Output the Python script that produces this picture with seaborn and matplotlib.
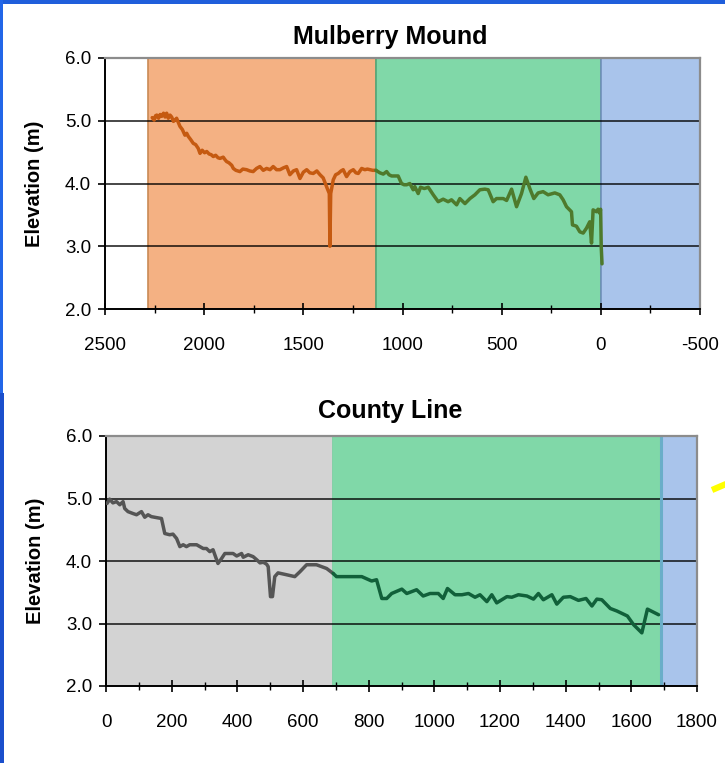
import numpy as np
import pandas as pd
import matplotlib
matplotlib.use("Agg")
import matplotlib.pyplot as plt
from matplotlib.ticker import MultipleLocator, FormatStrFormatter
from matplotlib.patches import Rectangle
from matplotlib.lines import Line2D
import seaborn as sns

# ---- Mulberry Mound profile (distance in m, elevation in m) ----
mm_dune_x = [2262, 2252, 2245, 2239, 2230, 2222, 2214, 2205, 2197, 2189, 2181, 2172, 2164,
             2155, 2147, 2139, 2130, 2122, 2110, 2097, 2088, 2080, 2068, 2055, 2043, 2030,
             2021, 2010, 1998, 1987, 1975, 1965, 1954, 1942, 1930, 1920, 1904, 1895, 1887,
             1875, 1861, 1853, 1840, 1820, 1805, 1786, 1770, 1753, 1736, 1719, 1702, 1685,
             1668, 1652, 1635, 1618, 1600, 1584, 1568, 1550, 1534, 1517, 1500, 1483, 1467,
             1450, 1432, 1416, 1400, 1383, 1369, 1366, 1362, 1349, 1337, 1324, 1310, 1299,
             1282, 1265, 1248, 1235, 1223, 1206, 1190, 1177, 1164, 1150, 1134]
mm_dune_z = [5.05, 5.01, 5.08, 5.09, 5.04, 5.10, 5.07, 5.12, 5.06, 5.12, 5.04, 5.09, 5.06,
             4.99, 5.01, 5.04, 4.97, 4.91, 4.86, 4.77, 4.80, 4.75, 4.70, 4.64, 4.62, 4.56,
             4.48, 4.53, 4.49, 4.51, 4.47, 4.46, 4.43, 4.45, 4.41, 4.40, 4.42, 4.38, 4.35,
             4.33, 4.29, 4.24, 4.21, 4.19, 4.23, 4.22, 4.20, 4.19, 4.24, 4.27, 4.21, 4.24,
             4.22, 4.27, 4.22, 4.22, 4.25, 4.27, 4.14, 4.20, 4.22, 4.08, 4.18, 4.22, 4.17,
             4.16, 4.20, 4.14, 4.09, 3.95, 3.84, 3.00, 3.84, 4.06, 4.14, 4.16, 4.20, 4.22,
             4.11, 4.19, 4.22, 4.17, 4.16, 4.24, 4.22, 4.23, 4.22, 4.21, 4.21]

mm_marsh_x = [1134, 1114, 1097, 1080, 1068, 1055, 1040, 1022, 1005, 992, 979, 963, 946, 938,
              921, 909, 890, 870, 845, 820, 795, 770, 753, 727, 711, 685, 660, 635, 610, 585,
              568, 543, 526, 492, 475, 450, 425, 400, 378, 358, 338, 316, 291, 266, 232, 207,
              190, 173, 148, 143, 123, 106, 89, 72, 56, 47, 39, 22, 14, 7, 1, -2, -6]
mm_marsh_z = [4.21, 4.17, 4.15, 4.19, 4.14, 4.12, 4.12, 4.12, 4.00, 3.98, 3.98, 4.00, 3.90,
              3.95, 3.84, 3.94, 3.92, 3.94, 3.82, 3.71, 3.75, 3.71, 3.74, 3.66, 3.76, 3.68,
              3.76, 3.82, 3.90, 3.91, 3.90, 3.71, 3.76, 3.76, 3.73, 3.91, 3.63, 3.84, 4.10,
              3.92, 3.76, 3.85, 3.87, 3.82, 3.85, 3.82, 3.74, 3.63, 3.55, 3.34, 3.32, 3.23,
              3.21, 3.29, 3.39, 3.05, 3.58, 3.55, 3.59, 3.53, 3.59, 2.99, 2.72]

# ---- County Line profile ----
cl_upland_x = [3, 8, 11, 21, 32, 42, 52, 57, 67, 82, 93, 108, 118, 128, 138, 148, 169, 179,
               194, 204, 215, 225, 235, 245, 255, 276, 286, 296, 306, 316, 326, 341, 352, 362,
               387, 398, 413, 418, 433, 448, 459, 469, 479, 489, 494, 501, 507, 514, 524, 550,
               575, 591, 611, 641, 672, 692]
cl_upland_z = [4.92, 4.96, 4.99, 4.93, 4.95, 4.90, 4.95, 4.84, 4.79, 4.76, 4.74, 4.79, 4.70,
               4.74, 4.71, 4.70, 4.68, 4.44, 4.42, 4.43, 4.36, 4.23, 4.26, 4.23, 4.26, 4.26,
               4.23, 4.20, 4.20, 4.15, 4.18, 3.96, 4.04, 4.12, 4.12, 4.08, 4.12, 4.06, 4.10,
               4.07, 4.02, 3.97, 3.98, 3.95, 3.91, 3.43, 3.43, 3.75, 3.81, 3.78, 3.75, 3.83,
               3.94, 3.94, 3.88, 3.80]

cl_marsh_x = [692, 702, 779, 809, 824, 840, 855, 870, 901, 916, 946, 966, 987, 1012, 1027,
              1040, 1063, 1084, 1104, 1124, 1139, 1160, 1175, 1190, 1221, 1236, 1256, 1282,
              1302, 1317, 1332, 1358, 1373, 1393, 1414, 1439, 1462, 1480, 1495, 1510, 1536,
              1556, 1576, 1588, 1607, 1632, 1649, 1683]
cl_marsh_z = [3.80, 3.75, 3.75, 3.68, 3.70, 3.40, 3.40, 3.48, 3.55, 3.48, 3.54, 3.44, 3.48,
              3.48, 3.40, 3.56, 3.46, 3.46, 3.48, 3.42, 3.46, 3.35, 3.46, 3.33, 3.43, 3.42,
              3.46, 3.44, 3.39, 3.48, 3.38, 3.46, 3.31, 3.42, 3.43, 3.37, 3.40, 3.28, 3.39,
              3.38, 3.24, 3.20, 3.15, 3.12, 2.98, 2.85, 3.23, 3.14]

# zone boundaries (distance, m)
mm_zones = [(2285, 1135, "#f4b183", "#c98a55"),
            (1135, 0, "#80d8a8", "#4fa97a"),
            (0, -500, "#a9c4eb", "#7090ba")]
cl_zones = [(0, 690, "#d3d3d3", "#9a9a9a"),
            (690, 1690, "#80d8a8", "#80d8a8"),
            (1690, 1800, "#a9c4eb", "#8a8a8a")]

y_ticks = [2.0, 3.0, 4.0, 5.0, 6.0]

sns.set_style("white")
plt.rcParams["font.family"] = ["Liberation Sans", "DejaVu Sans"]
plt.rcParams["axes.unicode_minus"] = False
plt.rcParams["text.color"] = "black"
plt.rcParams["axes.labelcolor"] = "black"
plt.rcParams["xtick.color"] = "black"
plt.rcParams["ytick.color"] = "black"

W, H = 725, 763
fig = plt.figure(figsize=(W / 100, H / 100), dpi=100)
fig.patch.set_facecolor("white")

ax1 = fig.add_axes([105 / W, (H - 309) / H, 595 / W, 251 / H])
ax2 = fig.add_axes([106 / W, (H - 686) / H, 591 / W, 250 / H])


def style_axes(ax, xlim, major, minor, zones, xpad):
    ax.set_facecolor("white")
    ax.set_xlim(*xlim)
    ax.set_ylim(2, 6)
    ax.set_yticks(y_ticks)
    ax.yaxis.set_major_formatter(FormatStrFormatter("%.1f"))
    ax.xaxis.set_major_locator(MultipleLocator(major))
    ax.xaxis.set_minor_locator(MultipleLocator(minor))
    for a, b, fc, ec in zones:
        ax.axvspan(a, b, facecolor=fc, edgecolor=ec, lw=1.2, zorder=0.5)
    for v in (3, 4, 5):
        ax.axhline(v, color="black", alpha=0.72, lw=1.4, zorder=1)
    for side in ("left", "bottom"):
        ax.spines[side].set_color("black")
        ax.spines[side].set_linewidth(1.4)
    for side in ("top", "right"):
        ax.spines[side].set_color("#8c8c8c")
        ax.spines[side].set_linewidth(1.6)
    ax.tick_params(axis="x", which="major", direction="inout", length=9, width=1.2,
                   labelsize=13.5, pad=xpad, bottom=True, colors="black")
    ax.tick_params(axis="x", which="minor", direction="inout", length=6, width=1.0,
                   bottom=True, colors="black")
    ax.tick_params(axis="y", which="major", direction="out", length=5, width=1.2,
                   labelsize=13.5, pad=5, left=True, colors="black")


style_axes(ax1, (2500, -500), 500, 250, mm_zones, 16)
style_axes(ax2, (0, 1800), 200, 100, cl_zones, 15.5)

# boundary marker between marsh and open water on County Line
ax2.axvline(1690, color="#6aaec8", lw=2.2, zorder=1.5)

mm_dune = pd.DataFrame({"distance": mm_dune_x, "elevation": mm_dune_z})
mm_marsh = pd.DataFrame({"distance": mm_marsh_x, "elevation": mm_marsh_z})
cl_upland = pd.DataFrame({"distance": cl_upland_x, "elevation": cl_upland_z})
cl_marsh = pd.DataFrame({"distance": cl_marsh_x, "elevation": cl_marsh_z})

line_kw = dict(x="distance", y="elevation", sort=False, estimator=None, legend=False,
               lw=2.5, zorder=3)
sns.lineplot(data=mm_dune, ax=ax1, color="#c55a11", **line_kw)
sns.lineplot(data=mm_marsh, ax=ax1, color="#4e7a2c", **line_kw)
sns.lineplot(data=cl_upland, ax=ax2, color="#555555", **line_kw)
sns.lineplot(data=cl_marsh, ax=ax2, color="#11603a", **line_kw)
for ax in (ax1, ax2):
    ax.set_xlabel("")
    ax.set_ylabel("Elevation (m)", fontsize=14.5, fontweight="bold", color="black")
ax1.yaxis.set_label_coords(-0.102, 0.5)
ax2.yaxis.set_label_coords(-0.104, 0.5)

fig.text(390 / W, 1 - 37 / H, "Mulberry Mound", ha="center", va="center",
         fontsize=18, fontweight="bold", color="black")
fig.text(390 / W, 1 - 411 / H, "County Line", ha="center", va="center",
         fontsize=18, fontweight="bold", color="black")

# slide frame
fig.patches.append(Rectangle((0, 1 - 4 / H), 1, 4 / H, transform=fig.transFigure,
                             facecolor="#1f5edb", edgecolor="none", zorder=5))
fig.patches.append(Rectangle((0, 1 - 393 / H), 2.5 / W, 393 / H, transform=fig.transFigure,
                             facecolor="#2266e8", edgecolor="none", zorder=5))
fig.patches.append(Rectangle((0, 0), 4 / W, 1 - 393 / H, transform=fig.transFigure,
                             facecolor="#1a4fcc", edgecolor="none", zorder=5))
fig.lines.append(Line2D([712 / W, 726 / W], [1 - 490 / H, 1 - 484 / H],
                        transform=fig.transFigure, color="#ffff00", lw=4.5,
                        solid_capstyle="butt"))

fig.savefig("out.png", dpi=100)
